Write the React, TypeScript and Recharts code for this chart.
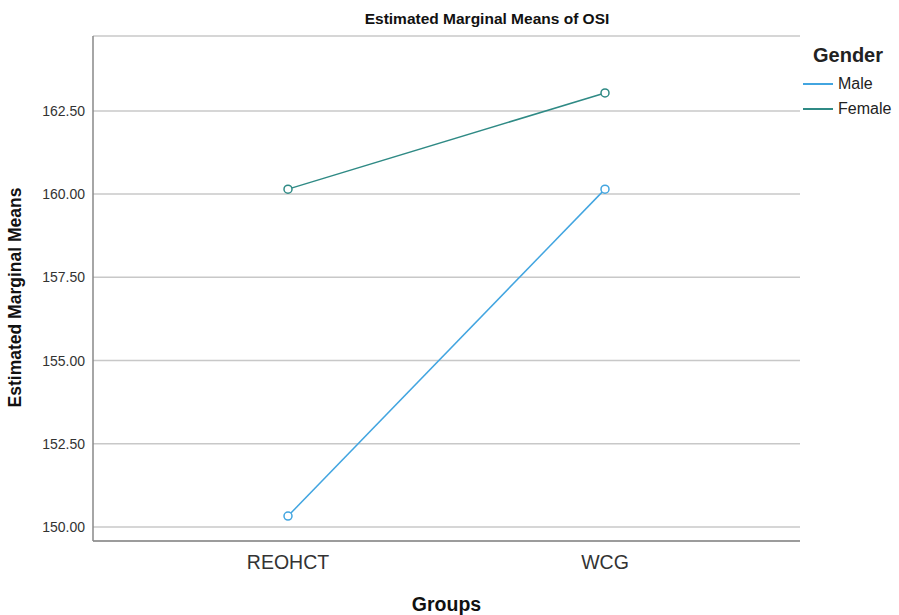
import React from "react";
import { LineChart, Line, XAxis, YAxis, CartesianGrid } from "recharts";

const groups = ["REOHCT", "WCG"];
const maleMeans = [150.33, 160.15];
const femaleMeans = [160.15, 163.04];
const yTicks = [150, 152.5, 155, 157.5, 160, 162.5];
const legendTitle = "Gender";
const seriesNames = ["Male", "Female"];

const data = groups.map((g, i) => ({ group: g, Male: maleMeans[i], Female: femaleMeans[i] }));

const MALE = "#42a5e0";
const FEMALE = "#2f8a85";
const COLORS = [MALE, FEMALE];
const FONT = "Arial, 'Liberation Sans', sans-serif";

const YLabel = (props: any) => {
  const vb = props.viewBox || {};
  const cy = (vb.y ?? 36) + (vb.height ?? 505) / 2 + 9;
  const cx = 21;
  return (
    <text
      x={cx}
      y={cy}
      transform={`rotate(-90 ${cx} ${cy})`}
      textAnchor="middle"
      fontSize={17.5}
      fontWeight="bold"
      fill="#111"
      fontFamily={FONT}
    >
      Estimated Marginal Means
    </text>
  );
};

export default function App() {
  return (
    <div style={{ position: "absolute", left: 0, top: 0, width: 899, height: 615, background: "#fff" }}>
      <div
        style={{
          position: "absolute",
          left: 0,
          top: 10,
          width: 974,
          textAlign: "center",
          fontFamily: FONT,
          fontWeight: "bold",
          fontSize: 15.5,
          color: "#111",
        }}
      >
        Estimated Marginal Means of OSI
      </div>
      <div style={{ position: "absolute", left: 803, top: 43, fontFamily: FONT, color: "#222" }}>
        <div style={{ fontWeight: "bold", fontSize: 20, marginLeft: 10, height: 28, lineHeight: "24px" }}>{legendTitle}</div>
        {seriesNames.map((n, i) => (
          <div key={n} style={{ display: "flex", alignItems: "center", height: 25, fontSize: 16 }}>
            <span style={{ display: "inline-block", width: 30, height: 0, borderTop: `2px solid ${COLORS[i]}`, marginRight: 5 }} />
            <span>{n}</span>
          </div>
        ))}
      </div>
      <LineChart width={899} height={615} data={data} margin={{ top: 36, right: 99, bottom: 0, left: 33 }}>
        <CartesianGrid horizontal vertical={false} stroke="#c8c8c8" strokeWidth={1.5} />
        <XAxis
          dataKey="group"
          padding={{ left: 195, right: 195 }}
          axisLine={{ stroke: "#888", strokeWidth: 1.5 }}
          tickLine={false}
          tick={{ fontSize: 19.5, fill: "#333", fontFamily: FONT }}
          tickMargin={8}
          height={74}
          label={{ value: "Groups", position: "insideBottom", offset: 4, fontSize: 19.5, fontWeight: "bold", fill: "#111", fontFamily: FONT }}
        />
        <YAxis
          type="number"
          domain={[149.58, 164.75]}
          allowDataOverflow
          ticks={yTicks}
          tickFormatter={(v: number) => v.toFixed(2)}
          axisLine={{ stroke: "#888", strokeWidth: 1.5 }}
          tickLine={false}
          tick={{ fontSize: 14, fill: "#333", fontFamily: FONT }}
          tickMargin={2}
          width={60}
          label={<YLabel />}
        />
        <Line
          dataKey="Male"
          stroke={MALE}
          strokeWidth={1.5}
          dot={{ r: 4, stroke: MALE, strokeWidth: 1.5, fill: "#fff" }}
          isAnimationActive={false}
        />
        <Line
          dataKey="Female"
          stroke={FEMALE}
          strokeWidth={1.5}
          dot={{ r: 4, stroke: FEMALE, strokeWidth: 1.5, fill: "#fff" }}
          isAnimationActive={false}
        />
      </LineChart>
    </div>
  );
}
